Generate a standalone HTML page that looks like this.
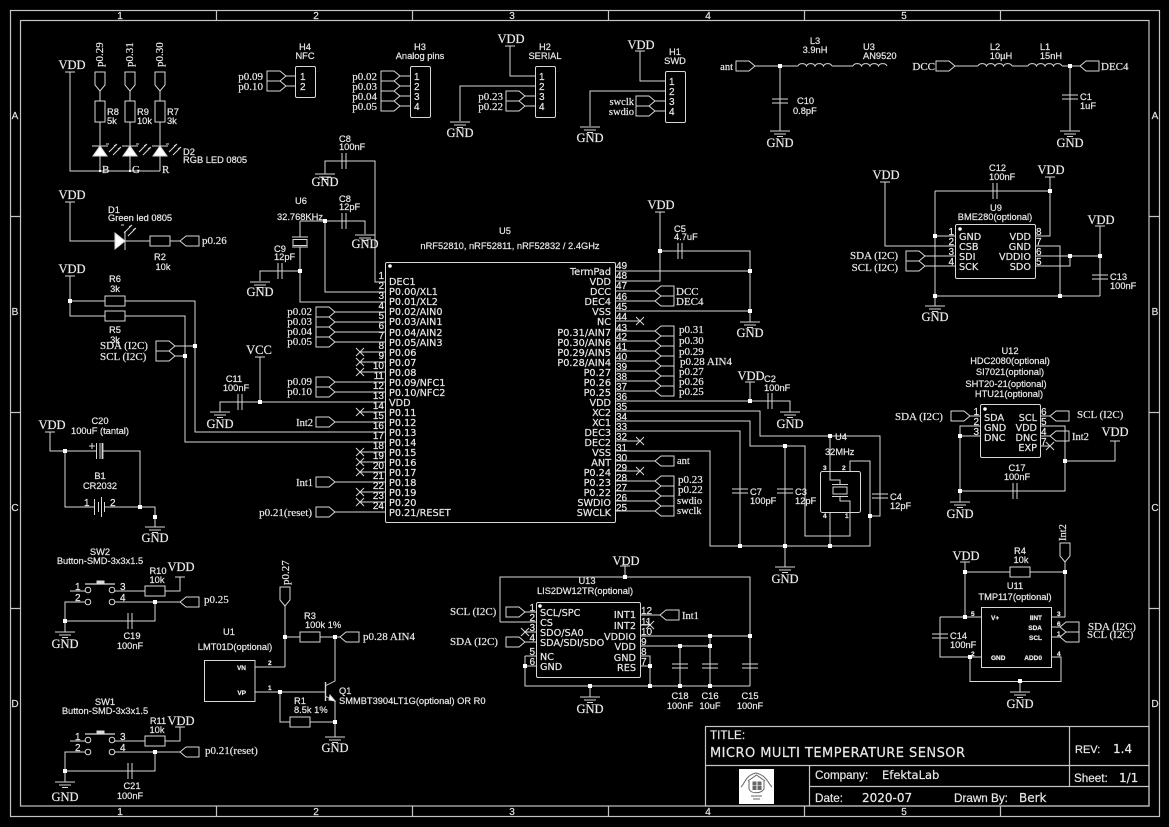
<!DOCTYPE html>
<html><head><meta charset="utf-8"><title>Schematic</title>
<style>
html,body{margin:0;padding:0;background:#000;width:1169px;height:827px;overflow:hidden}
svg{display:block}
text{fill:#e8e8e8;stroke:#e8e8e8;stroke-width:.2}
.s{font:9.300px "Liberation Sans",sans-serif}
.t{font:12.500px "Liberation Serif",serif}
.u{font:11px "Liberation Serif",serif}
.p{font:9.700px "DejaVu Sans",sans-serif}
.n{font:10px "Liberation Sans",sans-serif}
.m{font:bold 6.500px "Liberation Sans",sans-serif}
.e{text-anchor:end}
.c{text-anchor:middle}
.f{font:10px "Liberation Sans",sans-serif;fill:#ddd}
.b{font:12px "DejaVu Sans",sans-serif}
.h{font:11.700px "Liberation Sans",sans-serif}
</style></head><body>
<svg xmlns="http://www.w3.org/2000/svg" width="1169" height="827" viewBox="0 0 1169 827">
<defs>
<path id="fr" d="M0,0L-6,-5H-19V5H-6Z"/>
<path id="fl" d="M0,0L6,-5H19V5H6Z"/>
<path id="fd" d="M0,0L-5,-6V-19H5V-6Z"/>
<path id="gnd" d="M-10,0H10M-6,3H6M-3,5.500H3"/>
<path id="bar" d="M-5,0H5"/>
<rect id="rh" x="-10" y="-5" width="20" height="10" fill="#000"/>
<rect id="rv" x="-5" y="-10" width="10" height="21" fill="#000"/>
<path id="ch" d="M-2,-8V8M2,-8V8"/>
<path id="cv" d="M-8,-2H8M-8,2H8"/>
<path id="x" d="M-4,-4L4,4M-4,4L4,-4"/>
<rect id="d" x="-2" y="-2" width="4" height="4" fill="#fff" stroke="none"/>
<path id="ind" d="M0,0a4.500,3.500 0 0 1 8.500,0a4.500,3.500 0 0 1 8.500,0a4.500,3.500 0 0 1 8.500,0a4.500,3.500 0 0 1 8.500,0"/>
<path id="arw" d="M0,0L8,-8M-3,-8H0M8,-8L5,-6M4,3L12,-5M12,-5L9,-3"/>
</defs>

<!-- frame -->
<g fill="none" stroke="#c4c4c4" stroke-width="1.200">
<rect x="10.500" y="10.500" width="1149" height="806"/>
<rect x="20.500" y="20.500" width="1128.500" height="785.500"/>
<path d="M216.500,10V20M412.500,10V20M608.500,10V20M804.500,10V20M1000.500,10V20M216.500,806V817M412.500,806V817M608.500,806V817M804.500,806V817M1000.500,806V817M10,216.500H20M10,412.500H20M10,608.500H20M1149,216.500H1160M1149,412.500H1160M1149,608.500H1160"/>
<rect x="705.500" y="726.500" width="443.500" height="79.500"/>
<path d="M705,765.500H1149M809.500,765.500V806M1069.500,726.500V786M809.500,786.500H1149"/>
</g>
<g class="f c">
<text class="f c" x="120" y="19">1</text><text class="f c" x="316" y="19">2</text><text class="f c" x="512" y="19">3</text><text class="f c" x="708" y="19">4</text><text class="f c" x="904" y="19">5</text>
<text class="f c" x="120" y="815">1</text><text class="f c" x="316" y="815">2</text><text class="f c" x="512" y="815">3</text><text class="f c" x="708" y="815">4</text><text class="f c" x="904" y="815">5</text>
<text class="f c" x="15" y="119">A</text><text class="f c" x="15" y="315">B</text><text class="f c" x="15" y="511">C</text><text class="f c" x="15" y="707">D</text>
<text class="f c" x="1155" y="119">A</text><text class="f c" x="1155" y="315">B</text><text class="f c" x="1155" y="511">C</text><text class="f c" x="1155" y="707">D</text>
</g>

<!-- wires -->
<g fill="none" stroke="#d8d8d8" stroke-width="1" shape-rendering="crispEdges">
<path d="M70,72V171H160M100,91V101M100,122V171M130,91V101M130,122V171M160,91V101M160,122V171
M286,76H295M286,86H295
M400,76H410M400,86H410M400,96H410M400,106H410
M510,46V76H535M535,86H460V121M525,96H535M525,106H535
M640,51V81H665M665,91H590V126M655,101H665M655,111H665
M70,202V241H115M125,241H180
M300,221H325M325,221V292H385M325,221H365V234M300,221V237M300,247V302H385M300,271H260V281
M325,174V161H375V282H385
M70,276V316H185V442H385M70,301H195V432H385M175,346H195M175,356H185
M335,312H385M335,322H385M335,332H385M335,342H385M335,382H385M335,392H385M335,422H385M335,482H385M335,512H385
M360,352H385M360,362H385M360,372H385M360,412H385M360,452H385M360,462H385M360,472H385M360,492H385M360,502H385
M260,357V402H385M260,402H220V412
M50,432V451H140V507H65V451M140,507H155V527
M615,271H750M615,281H660V212M660,251H750V322M615,311H750
M615,291H655M615,301H655M615,321H640M615,331H655M615,341H655M615,351H655M615,361H655M615,371H655M615,381H655M615,391H655
M750,382V401M615,401H790V412
M615,411H760V436H880V516H870M830,436V480H840V485M840,497V501H850V536H805V446H750V421H615
M785,446V567
M615,431H740V546M615,451H710V546H870V461H850V471M830,512V546
M615,441H640M615,461H655M615,471H640M615,481H655M615,491H655M615,501H655M615,511H655
M755,66H798M832,66H853M780,66V131
M955,66H978M1012,66H1028M1062,66H1080M1070,66V131
M885,182V246H955M935,191V306M935,191H1050M1050,177V236H1035M935,236H955M925,256H955M925,266H955
M1035,246H1060V296M935,296H1100M1100,226V296M1035,256H1100M1035,266H1070V256
M970,416H980M980,426H960V502M960,436H980M1040,416H1050M1040,436H1050M1040,446H1050M1040,426H1065V491H960M1065,461H1115V441
M965,562V617H981M965,572H1065M1065,562V617H1052M1052,627H1060M1052,637H1060
M940,617H965M940,617V657H981M970,657V681.500H1061V657H1052M1020,681V692
M70,591H85M65,621V602H85M65,621V632M65,621H155V602M115,591H180V577M115,602H180
M70,741H85M65,771V752H85M65,771V782M65,771H155V752M115,741H180V727M115,752H180
M255,667H285M285,606V667M285,637H340M255,692H325M280,692V722H335M335,637V681L325,686M325,696L335,701V737
M625,566V577M500,622V577H750V686M500,622H536M525,612H536M525,642H536M525,632H536
M525,656H536M525,666H536M525,656V686H750M590,686V697
M640,615H660M640,625H650M640,636H750M640,646H710M680,646V686M710,636V686M640,656H650V686M640,666H650
"/>
</g>

<!-- symbols -->
<g fill="none" stroke="#d8d8d8" stroke-width="1">
<use href="#fd" x="100" y="91"/><use href="#fd" x="130" y="91"/><use href="#fd" x="160" y="91"/>
<use href="#rv" x="100" y="111"/><use href="#rv" x="130" y="111"/><use href="#rv" x="160" y="111"/>
<path d="M92,146H108M122,146H138M152,146H168"/>
<path d="M100,146L107,156H93ZM130,146L137,156H123ZM160,146L167,156H153Z" fill="#fff"/>
<use href="#arw" x="109" y="152"/><use href="#arw" x="139" y="152"/><use href="#arw" x="169" y="152"/>
<use href="#bar" x="70" y="72"/><use href="#bar" x="70" y="202"/><use href="#bar" x="70" y="276"/><use href="#bar" x="50" y="432"/>
<use href="#bar" x="510" y="46"/><use href="#bar" x="640" y="51"/><use href="#bar" x="660" y="212"/><use href="#bar" x="750" y="382"/>
<use href="#bar" x="885" y="182"/><use href="#bar" x="1050" y="177"/><use href="#bar" x="1100" y="226"/><use href="#bar" x="1115" y="441"/>
<use href="#bar" x="965" y="562"/><use href="#bar" x="260" y="357"/><use href="#bar" x="180" y="577"/><use href="#bar" x="180" y="727"/><use href="#bar" x="625" y="566"/>
<use href="#gnd" x="460" y="122"/><use href="#gnd" x="590" y="127"/><use href="#gnd" x="325" y="174"/><use href="#gnd" x="365" y="235"/><use href="#gnd" x="260" y="282"/>
<use href="#gnd" x="220" y="412"/><use href="#gnd" x="155" y="527"/><use href="#gnd" x="750" y="322"/><use href="#gnd" x="790" y="412"/><use href="#gnd" x="785" y="567"/>
<use href="#gnd" x="780" y="131"/><use href="#gnd" x="1070" y="131"/><use href="#gnd" x="935" y="306"/><use href="#gnd" x="960" y="502"/><use href="#gnd" x="1020" y="692"/>
<use href="#gnd" x="65" y="632"/><use href="#gnd" x="65" y="782"/><use href="#gnd" x="335" y="737"/><use href="#gnd" x="590" y="697"/>

<rect x="295.500" y="66.500" width="20" height="31" rx="1.500"/>
<use href="#fr" x="286" y="76"/><use href="#fr" x="286" y="86"/>
<rect x="410.500" y="66.500" width="20" height="51" rx="1.500"/>
<use href="#fr" x="400" y="76"/><use href="#fr" x="400" y="86"/><use href="#fr" x="400" y="96"/><use href="#fr" x="400" y="106"/>
<rect x="535.500" y="66.500" width="20" height="51" rx="1.500"/>
<use href="#fr" x="525" y="96"/><use href="#fr" x="525" y="106"/>
<rect x="665.500" y="71.500" width="20" height="51" rx="1.500"/>
<use href="#fr" x="655" y="101"/><use href="#fr" x="655" y="111"/>

<path d="M115,233V249L125,241Z" fill="#fff"/><path d="M125,231V250"/>
<use href="#arw" x="124" y="233"/>
<use href="#rh" x="160" y="241"/><use href="#fl" x="180" y="241"/>

<path d="M292,237H308M292,247H308"/><rect x="293" y="239.500" width="14" height="6" fill="#000"/>
<use href="#ch" x="280" y="271"/><use href="#ch" x="344" y="161"/><use href="#ch" x="344" y="221"/>
<use href="#rh" x="115" y="301"/><use href="#rh" x="115" y="316"/>
<use href="#fr" x="175" y="346"/><use href="#fr" x="175" y="356"/>
<use href="#fr" x="335" y="312"/><use href="#fr" x="335" y="322"/><use href="#fr" x="335" y="332"/><use href="#fr" x="335" y="342"/>
<use href="#fr" x="335" y="382"/><use href="#fr" x="335" y="392"/><use href="#fr" x="335" y="422"/><use href="#fr" x="335" y="482"/><use href="#fr" x="335" y="512"/>
<use href="#x" x="360" y="352"/><use href="#x" x="360" y="362"/><use href="#x" x="360" y="372"/><use href="#x" x="360" y="412"/><use href="#x" x="360" y="452"/><use href="#x" x="360" y="462"/><use href="#x" x="360" y="472"/><use href="#x" x="360" y="492"/><use href="#x" x="360" y="502"/>
<use href="#ch" x="240" y="402"/>
<rect x="96" y="443" width="7" height="16" fill="#000" stroke="none"/>
<path d="M96.500,443V459M100,443V459" /><path d="M102.500,443V459" stroke-width="1.800"/>
<path d="M89,446H95M92,443V449"/>
<path d="M65,507H93M106,507H140"/>
<rect x="92" y="497" width="14" height="20" fill="#000" stroke="none"/>
<path d="M94.500,499V515M98.500,502V512M101.500,497V517M104.500,502V512M88,507H94M105,507H110"/>

<rect x="385.500" y="262.500" width="230" height="260" rx="1.500"/>
<use href="#fl" x="655" y="291"/><use href="#fl" x="655" y="301"/>
<use href="#fl" x="655" y="331"/><use href="#fl" x="655" y="341"/><use href="#fl" x="655" y="351"/><use href="#fl" x="655" y="361"/><use href="#fl" x="655" y="371"/><use href="#fl" x="655" y="381"/><use href="#fl" x="655" y="391"/>
<use href="#fl" x="655" y="461"/><use href="#fl" x="655" y="481"/><use href="#fl" x="655" y="491"/><use href="#fl" x="655" y="501"/><use href="#fl" x="655" y="511"/>
<use href="#x" x="640" y="321"/><use href="#x" x="640" y="441"/><use href="#x" x="640" y="471"/>
<use href="#ch" x="680" y="251"/><use href="#ch" x="770" y="401"/>
<use href="#cv" x="740" y="491"/><use href="#cv" x="785" y="491"/><use href="#cv" x="880" y="496"/>
<rect x="820.500" y="471.500" width="40" height="41" rx="2"/>
<path d="M832,484.500H848M832,496.500H848"/><rect x="833" y="487" width="14" height="7" fill="#000"/>

<use href="#fr" x="755" y="66"/><use href="#ind" x="798" y="66"/><use href="#ind" x="853" y="66"/>
<use href="#cv" x="780" y="101"/>
<use href="#fr" x="955" y="66"/><use href="#ind" x="978" y="66"/><use href="#ind" x="1028" y="66"/><use href="#fl" x="1080" y="66"/>
<use href="#cv" x="1070" y="97"/>

<use href="#ch" x="995" y="191"/>
<rect x="955.500" y="224.500" width="80" height="54" rx="1.500"/>
<use href="#fr" x="925" y="256"/><use href="#fr" x="925" y="266"/>
<use href="#cv" x="1100" y="277"/>

<rect x="980.500" y="404.500" width="60" height="53" rx="1.500"/>
<use href="#fr" x="970" y="416"/><use href="#fl" x="1050" y="416"/><use href="#fl" x="1050" y="436"/><use href="#x" x="1050" y="446"/>
<use href="#ch" x="1015" y="491"/>

<use href="#rh" x="1020" y="572"/><use href="#fd" x="1065" y="562"/>
<rect x="981.500" y="607.500" width="70" height="60"/>
<use href="#fl" x="1060" y="627"/><use href="#fl" x="1060" y="637"/>
<use href="#cv" x="940" y="636"/>

<circle cx="88" cy="590" r="2.800" fill="#000"/><circle cx="88" cy="602" r="2.800" fill="#000"/><circle cx="112" cy="590" r="2.800" fill="#000"/><circle cx="112" cy="602" r="2.800" fill="#000"/>
<path d="M85,584H115" stroke-width="1.200"/><rect x="97" y="581" width="7" height="3" fill="#ddd"/>
<use href="#rh" x="155" y="591"/><use href="#fl" x="180" y="602"/><use href="#ch" x="130" y="621"/>
<circle cx="88" cy="740" r="2.800" fill="#000"/><circle cx="88" cy="752" r="2.800" fill="#000"/><circle cx="112" cy="740" r="2.800" fill="#000"/><circle cx="112" cy="752" r="2.800" fill="#000"/>
<path d="M85,734H115" stroke-width="1.200"/><rect x="97" y="731" width="7" height="3" fill="#ddd"/>
<use href="#rh" x="155" y="741"/><use href="#fl" x="180" y="752"/><use href="#ch" x="130" y="771"/>

<rect x="204.500" y="660.500" width="50.500" height="41"/>
<use href="#fd" x="285" y="606"/><use href="#rh" x="310" y="637"/><use href="#fl" x="340" y="637"/>
<path d="M325.500,682V701" stroke-width="1.400"/>
<path d="M335,701L330,695L329,700Z" fill="#fff"/>
<use href="#rh" x="300" y="722"/>

<rect x="536.500" y="602.500" width="104" height="75" rx="1.500"/>
<use href="#fr" x="525" y="612"/><use href="#fr" x="525" y="642"/><use href="#x" x="525" y="632"/>
<use href="#fl" x="660" y="615"/><use href="#x" x="650" y="625"/>
<use href="#cv" x="680" y="666"/><use href="#cv" x="710" y="666"/><use href="#cv" x="750" y="666"/>
</g>

<!-- junctions -->
<g>
<circle cx="100" cy="171" r="1.200" fill="#fff"/><circle cx="130" cy="171" r="1.200" fill="#fff"/><use href="#d" x="325" y="221"/><use href="#d" x="300" y="271"/><use href="#d" x="70" y="301"/><use href="#d" x="195" y="346"/><use href="#d" x="185" y="356"/><use href="#d" x="260" y="402"/><use href="#d" x="65" y="451"/><use href="#d" x="140" y="507"/><use href="#d" x="155" y="517"/>
<use href="#d" x="660" y="251"/><use href="#d" x="750" y="271"/><use href="#d" x="750" y="311"/><use href="#d" x="750" y="401"/><use href="#d" x="830" y="436"/><use href="#d" x="785" y="446"/><use href="#d" x="740" y="546"/><use href="#d" x="785" y="546"/><use href="#d" x="830" y="546"/><use href="#d" x="870" y="516"/>
<use href="#d" x="780" y="66"/><use href="#d" x="1070" y="66"/><use href="#d" x="935" y="236"/><use href="#d" x="935" y="296"/><use href="#d" x="1060" y="296"/><use href="#d" x="1050" y="191"/><use href="#d" x="1100" y="256"/><use href="#d" x="1070" y="256"/>
<use href="#d" x="960" y="436"/><use href="#d" x="960" y="491"/><use href="#d" x="1065" y="461"/><use href="#d" x="965" y="572"/><use href="#d" x="965" y="617"/><use href="#d" x="1065" y="572"/><use href="#d" x="970" y="657"/><use href="#d" x="1020" y="681"/>
<use href="#d" x="65" y="621"/><use href="#d" x="155" y="602"/><use href="#d" x="65" y="771"/><use href="#d" x="155" y="752"/><use href="#d" x="285" y="637"/><use href="#d" x="335" y="637"/><use href="#d" x="280" y="692"/><use href="#d" x="335" y="722"/>
<use href="#d" x="625" y="577"/><use href="#d" x="750" y="636"/><use href="#d" x="710" y="636"/><use href="#d" x="710" y="646"/><use href="#d" x="680" y="646"/><use href="#d" x="525" y="666"/><use href="#d" x="650" y="666"/><use href="#d" x="590" y="686"/><use href="#d" x="650" y="686"/><use href="#d" x="680" y="686"/><use href="#d" x="710" y="686"/>
<circle cx="390" cy="266" r="1.800" fill="#fff"/><circle cx="960" cy="229" r="1.800" fill="#fff"/><circle cx="985" cy="409" r="1.800" fill="#fff"/><circle cx="540" cy="606" r="1.800" fill="#fff"/>
</g>

<!-- power labels -->
<g>
<text class="t c" x="72" y="69">VDD</text><text class="t c" x="72" y="199">VDD</text><text class="t c" x="72" y="273">VDD</text><text class="t c" x="52" y="429">VDD</text>
<text class="t c" x="511" y="43">VDD</text><text class="t c" x="641" y="49">VDD</text><text class="t c" x="661" y="209">VDD</text><text class="t c" x="751" y="380">VDD</text>
<text class="t c" x="886" y="179">VDD</text><text class="t c" x="1051" y="174">VDD</text><text class="t c" x="1101" y="224">VDD</text><text class="t c" x="1115" y="436">VDD</text>
<text class="t c" x="966" y="560">VDD</text><text class="t c" x="181" y="571">VDD</text><text class="t c" x="181" y="725">VDD</text><text class="t c" x="626" y="565">VDD</text><text class="t c" x="259" y="354">VCC</text>
<text class="t c" x="460" y="137">GND</text><text class="t c" x="590" y="142">GND</text><text class="t c" x="325" y="186">GND</text><text class="t c" x="365" y="248">GND</text><text class="t c" x="260" y="296">GND</text>
<text class="t c" x="220" y="428">GND</text><text class="t c" x="155" y="542">GND</text><text class="t c" x="750" y="337">GND</text><text class="t c" x="790" y="428">GND</text><text class="t c" x="785" y="583">GND</text>
<text class="t c" x="780" y="147">GND</text><text class="t c" x="1070" y="147">GND</text><text class="t c" x="935" y="321">GND</text><text class="t c" x="960" y="518">GND</text><text class="t c" x="1020" y="708">GND</text>
<text class="t c" x="65" y="648">GND</text><text class="t c" x="65" y="801">GND</text><text class="t c" x="335" y="752">GND</text><text class="t c" x="590" y="713">GND</text>
</g>

<!-- top-left block labels -->
<g>
<text class="u" transform="translate(103,67) rotate(-90)">p0.29</text><text class="u" transform="translate(133,67) rotate(-90)">p0.31</text><text class="u" transform="translate(163,67) rotate(-90)">p0.30</text>
<text class="s" x="107" y="115">R8</text><text class="s" x="107" y="124">5k</text><text class="s" x="137" y="115">R9</text><text class="s" x="137" y="124">10k</text><text class="s" x="167" y="115">R7</text><text class="s" x="167" y="124">3k</text>
<text class="u" x="102" y="173">B</text><text class="u" x="132" y="173">G</text><text class="u" x="162" y="173">R</text>
<text class="s" x="183" y="155">D2</text><text class="s" x="183" y="163">RGB LED 0805</text>
<text class="s" x="108" y="213">D1</text><text class="s" x="108" y="221">Green led 0805</text>
<text class="s c" x="160" y="260">R2</text><text class="s c" x="163" y="270">10k</text><text class="u" x="202" y="244">p0.26</text>
<text class="s c" x="301" y="204">U6</text><text class="s" x="277" y="220">32.768KHz</text>
<text class="s" x="274" y="252">C9</text><text class="s" x="274" y="260">12pF</text>
<text class="s" x="339" y="142">C8</text><text class="s" x="339" y="150">100nF</text><text class="s" x="339" y="202">C8</text><text class="s" x="339" y="210">12pF</text>
<text class="s c" x="305" y="50">H4</text><text class="s c" x="305" y="59">NFC</text>
<text class="u e" x="263" y="80">p0.09</text><text class="u e" x="263" y="90">p0.10</text>
<text class="n" x="300" y="80">1</text><text class="n" x="300" y="90">2</text>
<text class="s c" x="420" y="50">H3</text><text class="s c" x="420" y="59">Analog pins</text>
<text class="u e" x="377" y="80">p0.02</text><text class="u e" x="377" y="90">p0.03</text><text class="u e" x="377" y="100">p0.04</text><text class="u e" x="377" y="110">p0.05</text>
<text class="n" x="414" y="80">1</text><text class="n" x="414" y="90">2</text><text class="n" x="414" y="100">3</text><text class="n" x="414" y="110">4</text>
<text class="s c" x="545" y="50">H2</text><text class="s c" x="545" y="59">SERIAL</text>
<text class="u e" x="503" y="100">p0.23</text><text class="u e" x="503" y="110">p0.22</text>
<text class="n" x="539" y="80">1</text><text class="n" x="539" y="90">2</text><text class="n" x="539" y="100">3</text><text class="n" x="539" y="110">4</text>
<text class="s c" x="675" y="55">H1</text><text class="s c" x="675" y="64">SWD</text>
<text class="u e" x="634" y="105" style="font-size:10.500px">swclk</text><text class="u e" x="634" y="115" style="font-size:10.500px">swdio</text>
<text class="n" x="669" y="85">1</text><text class="n" x="669" y="95">2</text><text class="n" x="669" y="105">3</text><text class="n" x="669" y="115">4</text>
<text class="s c" x="115" y="282">R6</text><text class="s c" x="115" y="292">3k</text><text class="s c" x="115" y="333">R5</text><text class="s c" x="115" y="343">3k</text>
<text class="u" x="100" y="349">SDA (I2C)</text><text class="u" x="100" y="360">SCL (I2C)</text>
<text class="s c" x="234" y="382">C11</text><text class="s c" x="236" y="391">100nF</text>
<text class="s c" x="100" y="424">C20</text><text class="s c" x="100" y="434">100uF (tantal)</text>
<text class="s c" x="100" y="479">B1</text><text class="s c" x="100" y="489">CR2032</text>
<text class="n" x="84" y="506">1</text><text class="n" x="110" y="506">2</text>
<text class="u e" x="312" y="315">p0.02</text><text class="u e" x="312" y="325">p0.03</text><text class="u e" x="312" y="335">p0.04</text><text class="u e" x="312" y="345">p0.05</text>
<text class="u e" x="312" y="385">p0.09</text><text class="u e" x="312" y="395">p0.10</text>
<text class="u e" x="313" y="426" style="font-size:10.500px">Int2</text><text class="u e" x="313" y="486" style="font-size:10.500px">Int1</text><text class="u e" x="312" y="516">p0.21(reset)</text>
</g>

<!-- U5 -->
<g>
<text class="s c" x="505" y="234">U5</text><text class="s c" x="510" y="249">nRF52810, nRF52811, nRF52832 / 2.4GHz</text>
<text class="n e" x="384" y="279">1</text><text class="n e" x="384" y="289">2</text><text class="n e" x="384" y="299">3</text><text class="n e" x="384" y="309">4</text><text class="n e" x="384" y="319">5</text><text class="n e" x="384" y="329">6</text><text class="n e" x="384" y="339">7</text><text class="n e" x="384" y="349">8</text><text class="n e" x="384" y="359">9</text><text class="n e" x="384" y="369">10</text><text class="n e" x="384" y="379">11</text><text class="n e" x="384" y="389">12</text><text class="n e" x="384" y="399">13</text><text class="n e" x="384" y="409">14</text><text class="n e" x="384" y="419">15</text><text class="n e" x="384" y="429">16</text><text class="n e" x="384" y="439">17</text><text class="n e" x="384" y="449">18</text><text class="n e" x="384" y="459">19</text><text class="n e" x="384" y="469">20</text><text class="n e" x="384" y="479">21</text><text class="n e" x="384" y="489">22</text><text class="n e" x="384" y="499">23</text><text class="n e" x="384" y="509">24</text>
<text class="p" x="389" y="285">DEC1</text><text class="p" x="389" y="295">P0.00/XL1</text><text class="p" x="389" y="305">P0.01/XL2</text><text class="p" x="389" y="315">P0.02/AIN0</text><text class="p" x="389" y="325">P0.03/AIN1</text><text class="p" x="389" y="336">P0.04/AIN2</text><text class="p" x="389" y="346">P0.05/AIN3</text><text class="p" x="389" y="356">P0.06</text><text class="p" x="389" y="366">P0.07</text><text class="p" x="389" y="376">P0.08</text><text class="p" x="389" y="386">P0.09/NFC1</text><text class="p" x="389" y="396">P0.10/NFC2</text><text class="p" x="389" y="406">VDD</text><text class="p" x="389" y="416">P0.11</text><text class="p" x="389" y="426">P0.12</text><text class="p" x="389" y="436">P0.13</text><text class="p" x="389" y="446">P0.14</text><text class="p" x="389" y="456">P0.15</text><text class="p" x="389" y="466">P0.16</text><text class="p" x="389" y="476">P0.17</text><text class="p" x="389" y="486">P0.18</text><text class="p" x="389" y="496">P0.19</text><text class="p" x="389" y="506">P0.20</text><text class="p" x="389" y="516">P0.21/RESET</text>
<text class="p e" x="611" y="275">TermPad</text><text class="p e" x="611" y="285">VDD</text><text class="p e" x="611" y="295">DCC</text><text class="p e" x="611" y="305">DEC4</text><text class="p e" x="611" y="315">VSS</text><text class="p e" x="611" y="325">NC</text><text class="p e" x="611" y="336">P0.31/AIN7</text><text class="p e" x="611" y="346">P0.30/AIN6</text><text class="p e" x="611" y="356">P0.29/AIN5</text><text class="p e" x="611" y="366">P0.28/AIN4</text><text class="p e" x="611" y="376">P0.27</text><text class="p e" x="611" y="386">P0.26</text><text class="p e" x="611" y="396">P0.25</text><text class="p e" x="611" y="406">VDD</text><text class="p e" x="611" y="416">XC2</text><text class="p e" x="611" y="426">XC1</text><text class="p e" x="611" y="436">DEC3</text><text class="p e" x="611" y="446">DEC2</text><text class="p e" x="611" y="456">VSS</text><text class="p e" x="611" y="466">ANT</text><text class="p e" x="611" y="476">P0.24</text><text class="p e" x="611" y="486">P0.23</text><text class="p e" x="611" y="496">P0.22</text><text class="p e" x="611" y="506">SWDIO</text><text class="p e" x="611" y="516">SWCLK</text>
<text class="n" x="616" y="269">49</text><text class="n" x="616" y="279">48</text><text class="n" x="616" y="289">47</text><text class="n" x="616" y="300">46</text><text class="n" x="616" y="310">45</text><text class="n" x="616" y="320">44</text><text class="n" x="616" y="331">43</text><text class="n" x="616" y="340">42</text><text class="n" x="616" y="350">41</text><text class="n" x="616" y="360">40</text><text class="n" x="616" y="370">39</text><text class="n" x="616" y="380">38</text><text class="n" x="616" y="390">37</text><text class="n" x="616" y="400">36</text><text class="n" x="616" y="410">35</text><text class="n" x="616" y="420">34</text><text class="n" x="616" y="430">33</text><text class="n" x="616" y="440">32</text><text class="n" x="616" y="451">31</text><text class="n" x="616" y="461">30</text><text class="n" x="616" y="471">29</text><text class="n" x="616" y="481">28</text><text class="n" x="616" y="491">27</text><text class="n" x="616" y="501">26</text><text class="n" x="616" y="511">25</text>
<text class="u" x="676" y="295">DCC</text><text class="u" x="676" y="305">DEC4</text>
<text class="u" x="679" y="333">p0.31</text><text class="u" x="679" y="344">p0.30</text><text class="u" x="679" y="355">p0.29</text><text class="u" x="680" y="365">p0.28 AIN4</text><text class="u" x="679" y="375">p0.27</text><text class="u" x="679" y="385">p0.26</text><text class="u" x="679" y="395">p0.25</text>
<text class="u" x="677" y="464" style="font-size:10.500px">ant</text><text class="u" x="678" y="483">p0.23</text><text class="u" x="678" y="493">p0.22</text><text class="u" x="677" y="504" style="font-size:10.500px">swdio</text><text class="u" x="677" y="514" style="font-size:10.500px">swclk</text>
<text class="s" x="674" y="232">C5</text><text class="s" x="674" y="240">4.7uF</text>
<text class="s" x="764" y="382">C2</text><text class="s" x="764" y="391">100nF</text>
<text class="s" x="750" y="495">C7</text><text class="s" x="750" y="504">100pF</text><text class="s" x="795" y="495">C3</text><text class="s" x="795" y="504">12pF</text>
<text class="s" x="835" y="440">U4</text><text class="s" x="825" y="455">32MHz</text><text class="s" x="890" y="500">C4</text><text class="s" x="890" y="509">12pF</text>
<text class="m" x="823" y="470">3</text><text class="m" x="842" y="470">2</text><text class="m" x="823" y="518">4</text><text class="m" x="845" y="518">1</text>
</g>

<!-- top right -->
<g>
<text class="u e" x="733" y="70" style="font-size:10.500px">ant</text>
<text class="s c" x="815" y="44">L3</text><text class="s c" x="815" y="53">3.9nH</text><text class="s" x="863" y="50">U3</text><text class="s" x="863" y="59">AN9520</text>
<text class="s" x="797" y="104">C10</text><text class="s" x="793" y="114">0.8pF</text>
<text class="u e" x="935" y="70">DCC</text><text class="u" x="1101" y="70">DEC4</text>
<text class="s c" x="995" y="50">L2</text><text class="s c" x="1001" y="59">10µH</text><text class="s c" x="1045" y="50">L1</text><text class="s c" x="1051" y="59">15nH</text>
<text class="s" x="1080" y="100">C1</text><text class="s" x="1080" y="109">1uF</text>
<text class="s" x="989" y="171">C12</text><text class="s" x="989" y="180">100nF</text>
<text class="s c" x="996" y="211">U9</text><text class="s c" x="995" y="220">BME280(optional)</text>
<text class="p" x="959" y="240">GND</text><text class="p" x="959" y="250">CSB</text><text class="p" x="959" y="260">SDI</text><text class="p" x="959" y="270">SCK</text>
<text class="p e" x="1031" y="240">VDD</text><text class="p e" x="1031" y="250">GND</text><text class="p e" x="1031" y="260">VDDIO</text><text class="p e" x="1031" y="270">SDO</text>
<text class="n e" x="954" y="235">1</text><text class="n e" x="954" y="245">2</text><text class="n e" x="954" y="255">3</text><text class="n e" x="954" y="265">4</text>
<text class="n" x="1036" y="235">8</text><text class="n" x="1036" y="245">7</text><text class="n" x="1036" y="255">6</text><text class="n" x="1036" y="265">5</text>
<text class="u e" x="898" y="259">SDA (I2C)</text><text class="u e" x="898" y="271">SCL (I2C)</text>
<text class="s" x="1110" y="280">C13</text><text class="s" x="1110" y="289">100nF</text>
<text class="s c" x="1010" y="354">U12</text><text class="s c" x="1010" y="364">HDC2080(optional)</text><text class="s c" x="1010" y="375">SI7021(optional)</text><text class="s c" x="1006" y="387">SHT20-21(optional)</text><text class="s c" x="1009" y="397">HTU21(optional)</text>
<text class="p" x="984" y="421">SDA</text><text class="p" x="984" y="431">GND</text><text class="p" x="984" y="441">DNC</text>
<text class="p e" x="1037" y="421">SCL</text><text class="p e" x="1037" y="431">VDD</text><text class="p e" x="1037" y="441">DNC</text><text class="p e" x="1037" y="451">EXP</text>
<text class="n e" x="979" y="415">1</text><text class="n e" x="979" y="425">2</text><text class="n e" x="979" y="435">3</text>
<text class="n" x="1041" y="415">6</text><text class="n" x="1041" y="425">5</text><text class="n" x="1041" y="435">4</text><text class="n" x="1041" y="445">7</text>
<text class="u" x="895" y="420">SDA (I2C)</text><text class="u" x="1077" y="418">SCL (I2C)</text><text class="u" x="1072" y="440" style="font-size:10.500px">Int2</text>
<text class="s c" x="1017" y="471">C17</text><text class="s c" x="1017" y="480">100nF</text>
<text class="s c" x="1020" y="554">R4</text><text class="s c" x="1021" y="563">10k</text>
<text class="u" transform="translate(1066,541) rotate(-90)" style="font-size:10.500px">Int2</text>
<text class="s c" x="1015" y="589">U11</text><text class="s c" x="1015" y="600">TMP117(optional)</text>
<text class="m" x="991" y="620">V+</text><text class="m e" x="1042" y="620">IINT</text><text class="m e" x="1042" y="630">SDA</text><text class="m e" x="1042" y="640">SCL</text><text class="m" x="991" y="660">GND</text><text class="m e" x="1042" y="660">ADD0</text>
<text class="m" x="971" y="616">5</text><text class="m" x="1057" y="616">3</text><text class="m" x="1057" y="626">6</text><text class="m" x="1057" y="636">1</text><text class="m" x="971" y="656">2</text><text class="m" x="1057" y="656">4</text>
<text class="u" x="1088" y="630">SDA (I2C)</text><text class="u" x="1087" y="638">SCL (I2C)</text>
<text class="s" x="950" y="639">C14</text><text class="s" x="950" y="648">100nF</text>
</g>

<!-- bottom left -->
<g>
<text class="s c" x="100" y="555">SW2</text><text class="s c" x="100" y="564">Button-SMD-3x3x1.5</text>
<text class="n" x="75" y="590">1</text><text class="n" x="75" y="601">2</text><text class="n" x="120" y="590">3</text><text class="n" x="120" y="601">4</text>
<text class="s c" x="158" y="574">R10</text><text class="s c" x="157" y="583">10k</text><text class="u" x="204" y="603">p0.25</text>
<text class="s c" x="132" y="639">C19</text><text class="s c" x="130" y="649">100nF</text>
<text class="s c" x="105" y="705">SW1</text><text class="s c" x="105" y="714">Button-SMD-3x3x1.5</text>
<text class="n" x="75" y="740">1</text><text class="n" x="75" y="751">2</text><text class="n" x="120" y="740">3</text><text class="n" x="120" y="751">4</text>
<text class="s c" x="158" y="724">R11</text><text class="s c" x="157" y="733">10k</text><text class="u" x="205" y="754">p0.21(reset)</text>
<text class="s c" x="132" y="789">C21</text><text class="s c" x="130" y="799">100nF</text>
<text class="s c" x="229" y="635">U1</text><text class="s c" x="235" y="650">LMT01D(optional)</text>
<text class="m e" x="246" y="670">VN</text><text class="m e" x="246" y="695">VP</text><text class="m" x="268" y="665">2</text><text class="m" x="268" y="690">1</text>
<text class="u" transform="translate(289,585) rotate(-90)">p0.27</text>
<text class="s" x="304" y="619">R3</text><text class="s" x="305" y="628">100k 1%</text><text class="u" x="363" y="640">p0.28 AIN4</text>
<text class="s" x="294" y="704">R1</text><text class="s" x="294" y="713">8.5k 1%</text>
<text class="s" x="339" y="694">Q1</text><text class="s" x="339" y="704">SMMBT3904LT1G(optional) OR R0</text>
</g>

<!-- U13 -->
<g>
<text class="s c" x="587" y="584">U13</text><text class="s c" x="585" y="594">LIS2DW12TR(optional)</text>
<text class="u" x="450" y="615">SCL (I2C)</text><text class="u" x="450" y="645">SDA (I2C)</text>
<text class="p" x="540" y="616">SCL/SPC</text><text class="p" x="540" y="626">CS</text><text class="p" x="540" y="636">SDO/SA0</text><text class="p" x="540" y="646">SDA/SDI/SDO</text><text class="p" x="540" y="660">NC</text><text class="p" x="540" y="670">GND</text>
<text class="p e" x="636" y="618">INT1</text><text class="p e" x="636" y="629">INT2</text><text class="p e" x="636" y="640">VDDIO</text><text class="p e" x="636" y="650">VDD</text><text class="p e" x="636" y="661">GND</text><text class="p e" x="636" y="671">RES</text>
<text class="n e" x="535" y="611">1</text><text class="n e" x="535" y="621">2</text><text class="n e" x="535" y="631">3</text><text class="n e" x="535" y="641">4</text><text class="n e" x="535" y="655">5</text><text class="n e" x="535" y="665">6</text>
<text class="n" x="641" y="614">12</text><text class="n" x="641" y="625">11</text><text class="n" x="641" y="635">10</text><text class="n" x="641" y="645">9</text><text class="n" x="641" y="655">8</text><text class="n" x="641" y="665">7</text>
<text class="u" x="682" y="619" style="font-size:10.500px">Int1</text>
<text class="s c" x="680" y="699">C18</text><text class="s c" x="680" y="709">100nF</text><text class="s c" x="710" y="699">C16</text><text class="s c" x="710" y="709">10uF</text><text class="s c" x="750" y="699">C15</text><text class="s c" x="750" y="709">100nF</text>
</g>

<!-- title block -->
<g>
<text class="h" x="710" y="739">TITLE:</text>
<text class="b" x="710" y="757" style="font-size:13px" textLength="255">MICRO MULTI TEMPERATURE SENSOR</text>
<text class="h" x="1075" y="753" style="font-size:11px">REV:</text><text class="b" x="1113" y="753">1.4</text>
<text class="h" x="815" y="779">Company:</text><text class="b" x="882" y="779" style="font-size:11.500px">EfektaLab</text>
<text class="h" x="1074" y="782">Sheet:</text><text class="b" x="1119" y="782">1/1</text>
<text class="h" x="815" y="802">Date:</text><text class="b" x="862" y="802">2020-07</text>
<text class="h" x="954" y="802">Drawn By:</text><text class="b" x="1019" y="802">Berk</text>
<rect x="739" y="769" width="35" height="35" fill="#fff"/>
<g fill="none" stroke="#666" stroke-width="1"><path d="M741,787C745,783 746,775 756,773C766,775 768,783 772,787M748,781L756.500,775L765,781M749,781V789C751,794 761,794 764,789V781M751,796H762M753,799H760"/><rect x="753" y="782" width="3" height="3" fill="#666"/><rect x="758" y="782" width="3" height="3" fill="#666"/><rect x="753" y="786.500" width="3" height="3" fill="#666"/><rect x="758" y="786.500" width="3" height="3" fill="#666"/></g>
</g>
</svg>
</body></html>
